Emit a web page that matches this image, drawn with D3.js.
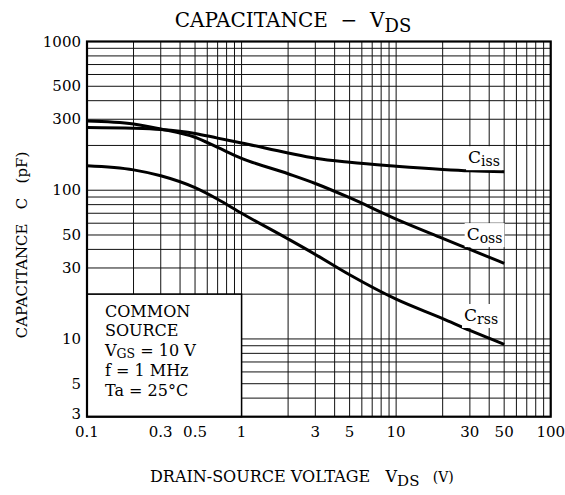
<!DOCTYPE html>
<html>
<head>
<meta charset="utf-8">
<script src="https://d3js.org/d3.v7.min.js"></script>
<title>Capacitance - VDS</title>
<style>
  body { margin: 0; background: #fff; }
  text { font-family: "DejaVu Serif", serif; fill: #000; white-space: pre; }
</style>
</head>
<body>
<div id="chart"></div>
<script>

// drain-source voltage (V) sample points
var vds  = [0.1, 0.2, 0.3, 0.5, 0.7, 1, 2, 3, 5, 10, 20, 30, 50];
// capacitances (pF)
var ciss = [264, 261, 256, 241, 224, 208, 178, 164, 154, 145, 138, 135, 133];
var coss = [292, 279, 258, 227, 194, 164, 129, 111, 89, 64, 47.5, 40, 32.2];
var crss = [146, 137, 125, 104, 87, 70, 47, 37, 27, 18.5, 13.7, 11.4, 9.2];

var xTickLabels = [0.1, 0.3, 0.5, 1, 3, 5, 10, 30, 50, 100];
var yTickLabels = [3, 5, 10, 30, 50, 100, 300, 500, 1000];

var W = 565, H = 495;
var plot = {left: 87, right: 550.7, top: 41.5, bottom: 416.7};

var svg = d3.select("#chart")
  .append("svg")
    .attr("width", W)
    .attr("height", H);

var x = d3.scaleLog().domain([0.1, 100]).range([plot.left, plot.right]);
var y = d3.scaleLog().domain([3, 1000]).range([plot.bottom, plot.top]);

// grid values: 1..9 in every decade
var xGrid = [], yGrid = [];
[0.1, 1, 10].forEach(function(d) {
  for (var k = 1; k <= 9; k++) xGrid.push(+(d * k).toPrecision(3));
});
xGrid.push(100);
[1, 10, 100].forEach(function(d) {
  for (var k = 1; k <= 9; k++) {
    var v = d * k;
    if (v >= 3) yGrid.push(v);
  }
});
yGrid.push(1000);

var grid = svg.append("g").attr("stroke", "#111").attr("stroke-width", 1);
grid.selectAll("line.v")
  .data(xGrid)
  .enter().append("line")
    .attr("class", "v")
    .attr("x1", function(d) { return x(d); })
    .attr("x2", function(d) { return x(d); })
    .attr("y1", plot.top)
    .attr("y2", plot.bottom);
grid.selectAll("line.h")
  .data(yGrid)
  .enter().append("line")
    .attr("class", "h")
    .attr("x1", plot.left)
    .attr("x2", plot.right)
    .attr("y1", function(d) { return y(d); })
    .attr("y2", function(d) { return y(d); });

// conditions box (covers the grid in the lower left)
svg.append("rect")
  .attr("x", x(0.1))
  .attr("y", y(20))
  .attr("width", x(1) - x(0.1))
  .attr("height", y(3) - y(20))
  .attr("fill", "#fff")
  .attr("stroke", "#000")
  .attr("stroke-width", 1.5);

var cond = svg.append("g").style("font-size", "16px");
var lines = [["COMMON"], ["SOURCE"], ["V", "GS", " = 10 V"], ["f = 1 MHz"], ["Ta = 25\u00B0C"]];
lines.forEach(function(l, i) {
  var t = cond.append("text").attr("x", 105).attr("y", 316.5 + i * 19.8);
  t.append("tspan").text(l[0]);
  if (l.length > 1) {
    t.append("tspan").attr("dy", 2).style("font-size", "12.5px").text(l[1]);
    t.append("tspan").attr("dy", -2).text(l[2]);
  }
});

// plot border
svg.append("rect")
  .attr("x", plot.left)
  .attr("y", plot.top)
  .attr("width", plot.right - plot.left)
  .attr("height", plot.bottom - plot.top)
  .attr("fill", "none")
  .attr("stroke", "#000")
  .attr("stroke-width", 2.2);

// curves
var line = d3.line()
  .x(function(d) { return x(d[0]); })
  .y(function(d) { return y(d[1]); })
  .curve(d3.curveMonotoneX);

var series = [
  {name: "iss", values: ciss, lx: 29.2, ly: 152},
  {name: "oss", values: coss, lx: 28.6, ly: 46.2},
  {name: "rss", values: crss, lx: 27.5, ly: 13.2}
];

series.forEach(function(s) {
  svg.append("path")
    .datum(vds.map(function(v, i) { return [v, s.values[i]]; }))
    .attr("fill", "none")
    .attr("stroke", "#000")
    .attr("stroke-width", 3)
    .attr("d", line);
});

// curve labels with white backing
series.forEach(function(s) {
  var g = svg.append("g");
  var bg = g.append("rect").attr("fill", "#fff");
  var t = g.append("text")
    .attr("x", x(s.lx))
    .attr("y", y(s.ly))
    .style("font-size", "17px");
  t.append("tspan").text("C");
  t.append("tspan").attr("dy", 3).style("font-size", "14px").text(s.name);
  var b = t.node().getBBox();
  bg.attr("x", b.x - 2).attr("y", b.y - 1).attr("width", b.width + 4).attr("height", b.height + 2);
});

// tick labels
svg.append("g").style("font-size", "15px")
  .selectAll("text")
  .data(xTickLabels)
  .enter().append("text")
    .attr("x", function(d) { return x(d); })
    .attr("y", 437)
    .attr("text-anchor", "middle")
    .text(function(d) { return d; });

svg.append("g").style("font-size", "15px")
  .selectAll("text")
  .data(yTickLabels)
  .enter().append("text")
    .attr("x", 81)
    .attr("y", function(d) { return d === 3 ? y(d) + 2 : y(d) + 5; })
    .attr("text-anchor", "end")
    .text(function(d) { return d; });

// title
var title = svg.append("text")
  .attr("x", 293)
  .attr("y", 27)
  .attr("text-anchor", "middle")
  .style("font-size", "20px");
title.append("tspan").text("CAPACITANCE  \u2212  V");
title.append("tspan").attr("dy", 5).style("font-size", "18px").text("DS");

// x axis label
var xl = svg.append("text")
  .attr("x", 150)
  .attr("y", 482)
  .style("font-size", "16px");
xl.append("tspan").text("DRAIN-SOURCE VOLTAGE   V");
xl.append("tspan").attr("dy", 4).style("font-size", "15px").text("DS");
xl.append("tspan").attr("dy", -4).style("font-size", "14px").text("   (V)");

// y axis label
svg.append("text")
  .attr("transform", "translate(27,245) rotate(-90)")
  .attr("text-anchor", "middle")
  .style("font-size", "15px")
  .text("CAPACITANCE   C   (pF)");

</script>
</body>
</html>
